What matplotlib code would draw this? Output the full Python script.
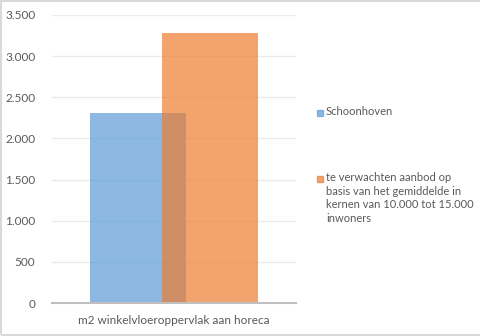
import numpy as np
import matplotlib.pyplot as plt
from matplotlib.patches import Rectangle
from matplotlib.ticker import FuncFormatter

categorie = ["m2 winkelvloeroppervlak aan horeca"]
reeksen = ["Schoonhoven",
           "te verwachten aanbod op\nbasis van het gemiddelde in\nkernen van 10.000 tot 15.000\ninwoners"]
waarden = [2310, 3280]
kleuren = ["#5B9BD5", "#ED7D31"]
yticks = [0, 500, 1000, 1500, 2000, 2500, 3000, 3500]

plt.rcParams["font.family"] = ["Lato", "DejaVu Sans"]
tekstkleur = "#595959"

fig = plt.figure(figsize=(4.8, 3.36), dpi=100)
ax = fig.add_axes([52/480, 33/336, 244/480, 288/336])

# twee staven die elkaar deels overlappen
offsets = [-0.1475, 0.1475]
for off, w, c in zip(offsets, waarden, kleuren):
    ax.bar(0 + off, w, width=0.393, color=c, alpha=0.7, zorder=3)

ax.set_xlim(-0.5, 0.5)
ax.set_ylim(0, 3500)
ax.set_yticks(yticks)
ax.yaxis.set_major_formatter(FuncFormatter(lambda v, p: f"{int(v):,}".replace(",", ".")))
ax.set_xticks([0])
ax.set_xticklabels(categorie)
ax.tick_params(axis="both", length=0, labelsize=8.5, colors=tekstkleur)
ax.tick_params(axis="y", pad=12)
ax.tick_params(axis="x", pad=9)
ax.grid(axis="y", color="#EBEBEB", linewidth=1, zorder=0)
for s in ["top", "right", "left"]:
    ax.spines[s].set_visible(False)
ax.spines["bottom"].set_color("#BFBFBF")
ax.spines["bottom"].set_linewidth(1.5)
ax.spines["bottom"].set_zorder(4)

# legenda rechts naast de grafiek
leg_y = [113, 179]
for y, lab, c in zip(leg_y, reeksen, kleuren):
    fig.patches.append(Rectangle((317/480, (336 - y - 3)/336), 6/480, 6/336,
                                 transform=fig.transFigure, color=c, alpha=0.7))
    fig.text(326/480, (336 - y + 7)/336, lab, fontsize=8, color=tekstkleur,
             va="top", ha="left", linespacing=1.3)

# lichtgrijze rand om de figuur
fig.patches.append(Rectangle((0.5/480, 1.5/336), 500/480, 334/336, transform=fig.transFigure,
                             fill=False, edgecolor="#D9D9D9", linewidth=1.5))

fig.savefig("out.png", dpi=100)
